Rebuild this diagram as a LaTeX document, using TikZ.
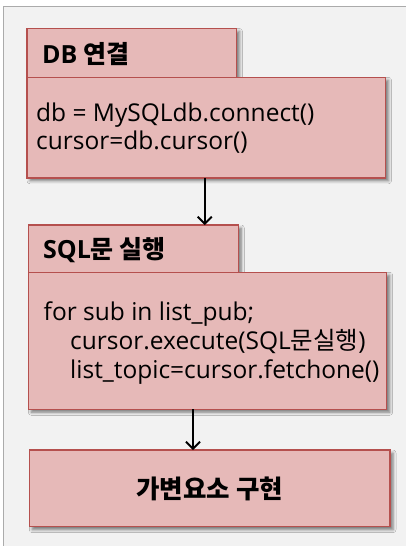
\documentclass[tikz,border=0pt]{standalone}
\usepackage{fontspec}
\setmainfont{Open Sans}
\newfontfamily\kr{Noto Sans CJK KR}
\usetikzlibrary{arrows.meta,shadows.blur}

\definecolor{boxfill}{HTML}{E6B9B8}
\definecolor{boxline}{HTML}{B5504E}
\definecolor{panel}{HTML}{F2F2F2}
\definecolor{panelline}{HTML}{ABABAB}

\tikzset{
  x=1pt, y=-1pt,
  box/.style={draw=boxline, fill=boxfill, line width=1.4pt, inner sep=0pt, outer sep=0pt,
    anchor=north west,
    blur shadow={shadow xshift=3pt, shadow yshift=-3pt, shadow blur radius=3pt, shadow opacity=50}},
  title/.style={anchor=base west, inner sep=0pt, font=\fontsize{25}{30}\selectfont\bfseries},
  code/.style={anchor=base west, inner sep=0pt, font=\fontsize{24.5}{30}\selectfont},
  arr/.style={line width=1.9pt, -{Straight Barb[length=7pt,width=14pt,line width=1.9pt]}},
}

\begin{document}
\begin{tikzpicture}
  \useasboundingbox (0,0) rectangle (406,546);
  \fill[white] (0,0) rectangle (406,546);

  % grey panel behind the flow
  \fill[panel] (3.5,6.5) rectangle (406,546);
  \draw[panelline, line width=1.3pt] (3.5,546) -- (3.5,6.5) -- (406,6.5);

  % step 1: connection
  \node[box, minimum width=209.5pt, minimum height=49pt] (t1) at (27,28.5) {};
  \node[box, minimum width=358.5pt, minimum height=100.5pt] (b1) at (27,77.3) {};
  \node[title] (t1txt) at (42,63) {DB {\kr 연결}};
  \node[code] (b1l1) at (36,121) {db = MySQLdb.connect()};
  \node[code] (b1l2) at (36,149) {cursor=db.cursor()};

  % step 2: query loop
  \node[box, minimum width=210pt, minimum height=47.3pt] (t2) at (28.3,225) {};
  \node[box, minimum width=358.4pt, minimum height=137pt] (b2) at (28.3,272.3) {};
  \node[title] (t2txt) at (43,258) {SQL{\kr 문 실행}};
  \node[code] (b2l1) at (43.5,320) {for sub in list\_pub;};
  \node[code] (b2l2) at (70,349) {cursor.execute(SQL{\kr 문실행})};
  \node[code] (b2l3) at (70,378) {list\_topic=cursor.fetchone()};

  % step 3: result
  \node[box, minimum width=360.7pt, minimum height=76.7pt] (b3) at (29.3,450) {};
  \node[inner sep=0pt, font=\fontsize{25.5}{30}\selectfont\bfseries\kr] (b3txt) at ([yshift=-1pt]b3.center) {가변요소 구현};

  % flow arrows
  \draw[arr] ([xshift=-1.5pt]b1.south) -- ([xshift=-1.5pt]b1.south |- t2.north);
  \draw[arr] ([xshift=-14.5pt]b2.south) -- ([xshift=-14.5pt]b2.south |- b3.north);
\end{tikzpicture}
\end{document}
